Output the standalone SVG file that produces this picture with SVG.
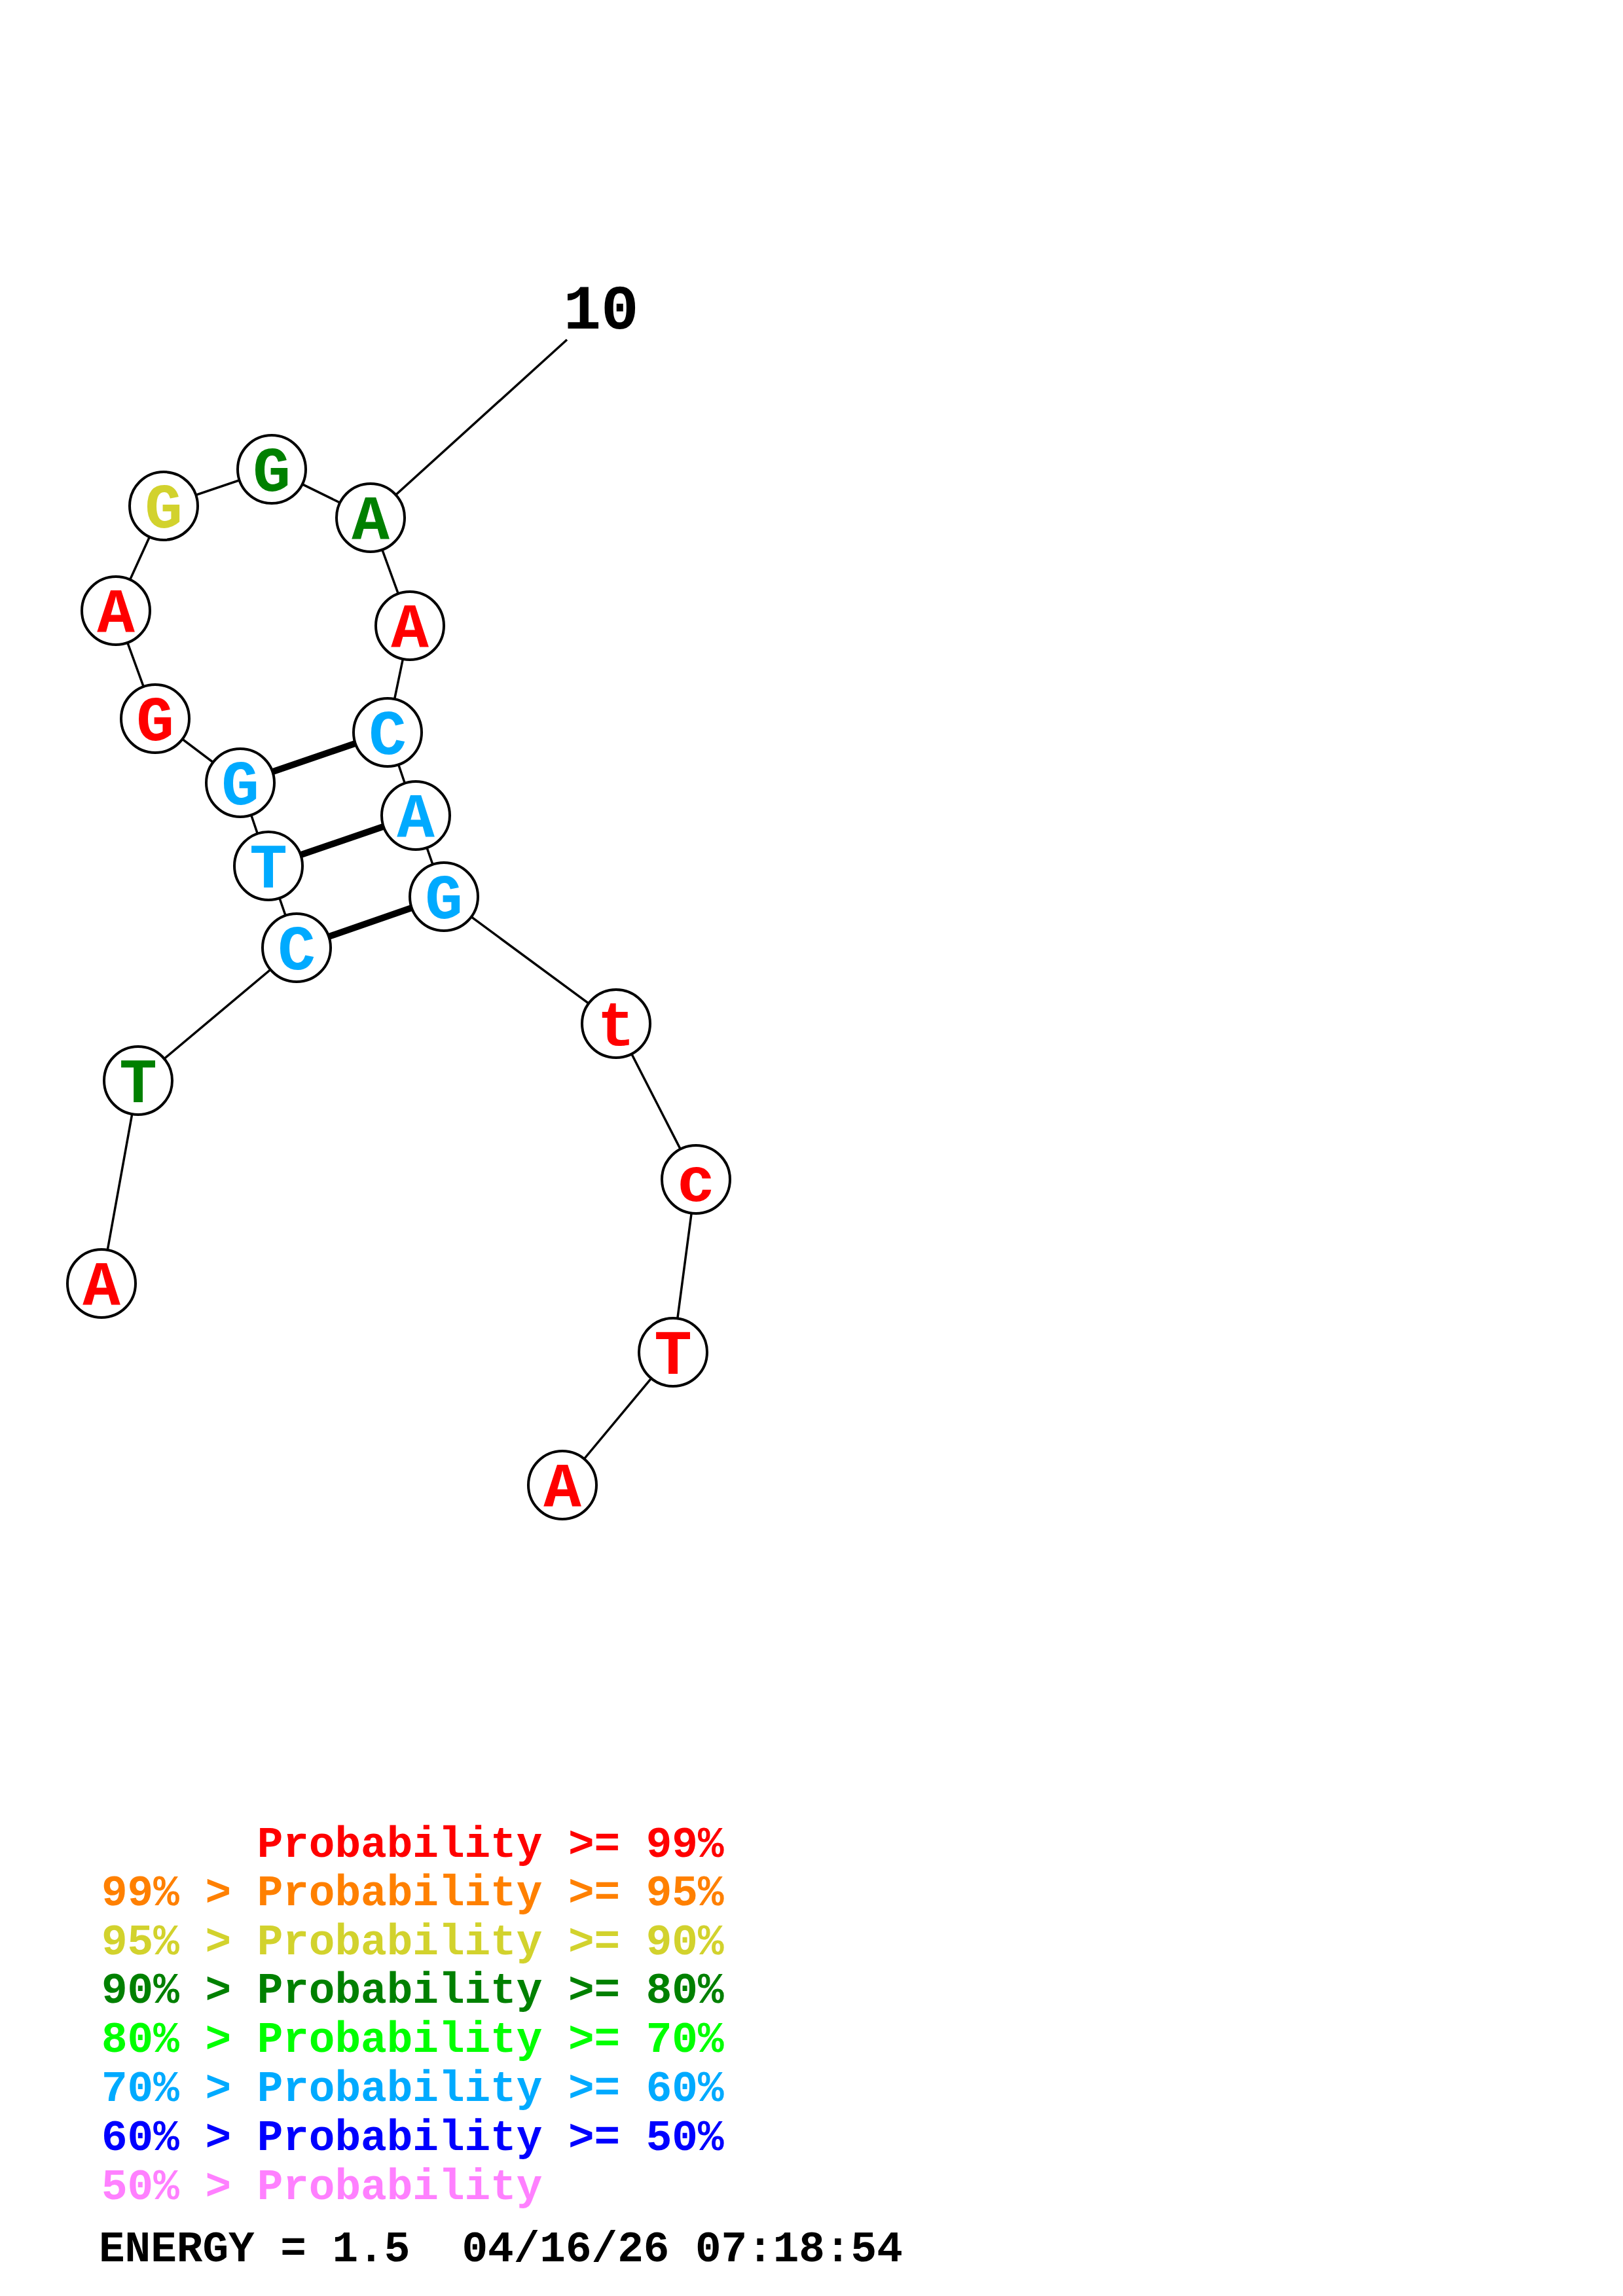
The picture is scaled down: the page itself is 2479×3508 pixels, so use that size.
<svg xmlns="http://www.w3.org/2000/svg" width="2479" height="3508" viewBox="0 0 2479 3508">
<style>
.bb{stroke:#000;stroke-width:3.5;fill:none}
.bp{stroke:#000;stroke-width:10;fill:none}
.nc{fill:#fff;stroke:#000;stroke-width:4}
.nt{font-family:"Liberation Mono","Courier New",monospace;font-weight:bold;font-size:96px;text-anchor:middle}
.lg{font-family:"Liberation Mono","Courier New",monospace;font-weight:bold;font-size:66px;white-space:pre}
.r{fill:#FF0000}.o{fill:#FF8000}.y{fill:#D2D22D}.dg{fill:#008000}.g{fill:#00FF00}.c{fill:#00AAFF}.b{fill:#0000FF}.p{fill:#FF80FF}.k{fill:#000}
</style>
<rect width="2479" height="3508" fill="#fff"/>
<g id="connectors">
<polyline class="bb" points="155,1961 211,1651 453,1448 410,1323 367,1196 237,1098 177,933 250,773 415,717 566,791 626,956 592,1119 635,1246 678,1370 941,1564 1063,1802 1028,2066 859,2269"/>
<line class="bb" x1="566" y1="791" x2="866" y2="519"/>
<line class="bp" x1="367" y1="1196" x2="592" y2="1119"/>
<line class="bp" x1="410" y1="1323" x2="635" y2="1246"/>
<line class="bp" x1="453" y1="1448" x2="678" y2="1370"/>
</g>
<g id="n1"><circle class="nc" cx="155" cy="1961" r="52"/><text class="nt r" x="155" y="1994">A</text></g>
<g id="n2"><circle class="nc" cx="211" cy="1651" r="52"/><text class="nt dg" x="211" y="1684">T</text></g>
<g id="n3"><circle class="nc" cx="453" cy="1448" r="52"/><text class="nt c" x="453" y="1481">C</text></g>
<g id="n4"><circle class="nc" cx="410" cy="1323" r="52"/><text class="nt c" x="410" y="1356">T</text></g>
<g id="n5"><circle class="nc" cx="367" cy="1196" r="52"/><text class="nt c" x="367" y="1229">G</text></g>
<g id="n6"><circle class="nc" cx="237" cy="1098" r="52"/><text class="nt r" x="237" y="1131">G</text></g>
<g id="n7"><circle class="nc" cx="177" cy="933" r="52"/><text class="nt r" x="177" y="966">A</text></g>
<g id="n8"><circle class="nc" cx="250" cy="773" r="52"/><text class="nt y" x="250" y="806">G</text></g>
<g id="n9"><circle class="nc" cx="415" cy="717" r="52"/><text class="nt dg" x="415" y="750">G</text></g>
<g id="n10"><circle class="nc" cx="566" cy="791" r="52"/><text class="nt dg" x="566" y="824">A</text></g>
<g id="n11"><circle class="nc" cx="626" cy="956" r="52"/><text class="nt r" x="626" y="989">A</text></g>
<g id="n12"><circle class="nc" cx="592" cy="1119" r="52"/><text class="nt c" x="592" y="1152">C</text></g>
<g id="n13"><circle class="nc" cx="635" cy="1246" r="52"/><text class="nt c" x="635" y="1279">A</text></g>
<g id="n14"><circle class="nc" cx="678" cy="1370" r="52"/><text class="nt c" x="678" y="1403">G</text></g>
<g id="n15"><circle class="nc" cx="941" cy="1564" r="52"/><text class="nt r" x="941" y="1597">t</text></g>
<g id="n16"><circle class="nc" cx="1063" cy="1802" r="52"/><text class="nt r" x="1063" y="1835">c</text></g>
<g id="n17"><circle class="nc" cx="1028" cy="2066" r="52"/><text class="nt r" x="1028" y="2099">T</text></g>
<g id="n18"><circle class="nc" cx="859" cy="2269" r="52"/><text class="nt r" x="859" y="2302">A</text></g>
<g id="label10"><text class="nt k" x="918" y="502">10</text></g>
<g id="legend">
<text class="lg r" x="155" y="2837">      Probability &gt;= 99%</text>
<text class="lg o" x="155" y="2911">99% &gt; Probability &gt;= 95%</text>
<text class="lg y" x="155" y="2986">95% &gt; Probability &gt;= 90%</text>
<text class="lg dg" x="155" y="3060">90% &gt; Probability &gt;= 80%</text>
<text class="lg g" x="155" y="3135">80% &gt; Probability &gt;= 70%</text>
<text class="lg c" x="155" y="3210">70% &gt; Probability &gt;= 60%</text>
<text class="lg b" x="155" y="3285">60% &gt; Probability &gt;= 50%</text>
<text class="lg p" x="155" y="3360">50% &gt; Probability</text>
<text class="lg k" x="151" y="3455">ENERGY = 1.5  04/16/26 07:18:54</text>
</g>
</svg>
